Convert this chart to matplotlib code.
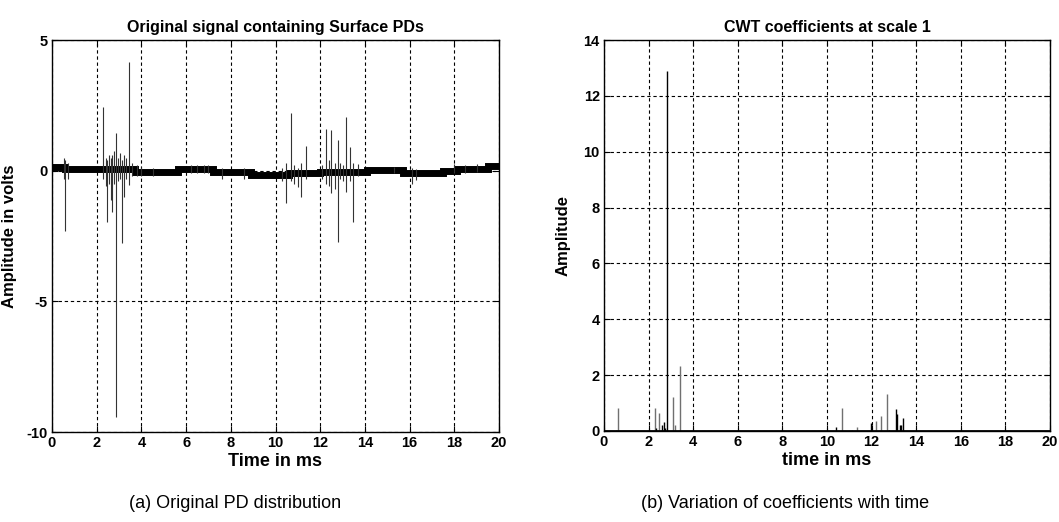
import matplotlib
matplotlib.use("Agg")
import matplotlib.pyplot as plt

plt.rcParams['font.family'] = ['Liberation Sans Narrow', 'Liberation Sans', 'DejaVu Sans']
plt.rcParams['axes.unicode_minus'] = False

# ---- Left panel data: original signal (baseline band + PD spikes) ----
base_time = [0, 0.6, 3.7, 5.65, 7.2, 8.9, 10.6, 12.0, 14.1, 15.7, 17.5, 18.1, 19.5, 20.0]
base_volt = [0.15, 0.06, -0.05, 0.06, -0.07, -0.17, -0.08, -0.05, 0.02, -0.1, 0.0, 0.07, 0.18, 0.18]

left_spike_time = [0.55, 0.6, 0.7, 2.29, 2.4, 2.47, 2.55, 2.63, 2.7, 2.77, 2.86, 2.95, 3.05, 3.12, 3.2, 3.3, 3.45, 3.6, 3.8,
                   4.0, 4.5, 6.2, 6.5, 6.8, 7.0, 7.6, 8.6, 10.3, 10.46, 10.7, 10.85, 11.0, 11.15, 11.38, 12.1, 12.27, 12.4, 12.5, 12.65, 12.78, 12.9, 13.0,
                   13.17, 13.33, 13.47, 13.7, 15.3, 16.1, 16.3, 18.0, 18.5, 19.0]
left_spike_max = [0.5, 0.4, 0.3, 2.43, 0.5, 0.4, 0.6, 0.5, 0.6, 0.75, 1.45, 0.5, 0.67, 0.4, 0.6, 0.5, 4.14, 0.3, 0.2,
                  0.15, 0.1, 0.2, 0.2, 0.2, 0.2, 0.1, 0.1, 0.1, 0.28, 2.2, 0.2, 0.1, 0.28, 0.94, 0.2, 1.6, 0.4, 1.55, 0.3, 1.17, 0.3, 0.2,
                  2.04, 0.91, 0.3, 0.25, 0.15, 0.1, 0.05, 0.25, 0.2, 0.25]
left_spike_min = [-0.3, -2.3, -0.3, -0.3, -0.6, -1.97, -0.5, -1.13, -1.6, -0.5, -9.43, -0.4, -0.3, -2.77, -1.0, -0.3, -0.56, -0.2, -0.2,
                  -0.2, -0.2, -0.1, -0.1, -0.1, -0.1, -0.3, -0.3, -0.4, -1.23, -0.4, -0.5, -0.63, -1.0, -0.3, -0.3, -0.5, -0.6, -0.87, -0.7, -2.73, -0.3, -0.4,
                  -0.81, -0.4, -1.96, -0.2, -0.1, -0.5, -0.35, -0.1, -0.1, -0.05]

# ---- Right panel data: CWT coefficients at scale 1 ----
cwt_time = [0.53, 0.61, 2.28, 2.35, 2.46, 2.6, 2.69, 2.75, 2.83, 3.11, 3.2, 3.42,
            10.42, 10.66, 11.1, 11.33, 11.96, 12.2, 12.44, 12.71, 12.8, 13.08, 13.13, 13.28, 13.33, 13.43]
cwt_amp = [0.05, 0.81, 0.82, 0.1, 0.63, 0.2, 0.33, 0.12, 12.88, 1.23, 0.2, 2.34,
           0.15, 0.82, 0.05, 0.13, 0.3, 0.37, 0.54, 1.31, 0.05, 0.78, 0.6, 0.2, 0.2, 0.45]
cwt_color = ['#707070', '#707070', '#707070', '#000000', '#707070', '#000000', '#000000', '#000000', '#000000', '#707070', '#707070', '#707070',
             '#000000', '#707070', '#707070', '#707070', '#000000', '#707070', '#707070', '#707070', '#000000', '#000000', '#000000', '#000000', '#000000', '#000000']

x_ticks = [0, 2, 4, 6, 8, 10, 12, 14, 16, 18, 20]
left_y_ticks = [-10, -5, 0, 5]
right_y_ticks = [0, 2, 4, 6, 8, 10, 12, 14]

fig = plt.figure(figsize=(10.59, 5.22), dpi=100)
W, H = 1059, 522
axL = fig.add_axes([52 / W, (H - 432) / H, 447 / W, 392 / H])
axR = fig.add_axes([604 / W, (H - 431) / H, 446 / W, 391 / H])

def style(ax):
    ax.set_xlim(0, 20)
    ax.set_xticks(x_ticks)
    ax.grid(True, color='black', linestyle=(0, (3, 2.5)), linewidth=0.8)
    ax.set_axisbelow(True)
    ax.tick_params(direction='in', top=True, right=True, length=4, width=0.8, pad=3)
    for lab in ax.get_xticklabels() + ax.get_yticklabels():
        lab.set_fontsize(10.5)
        lab.set_fontweight('bold')
    for s in ax.spines.values():
        s.set_linewidth(1.0)
        s.set_color('black')

# Left panel
axL.plot(base_time, base_volt, color='black', linewidth=5.0, drawstyle='steps-post',
         solid_joinstyle='miter', zorder=3)
axL.vlines(left_spike_time, left_spike_min, left_spike_max, color='#333333', linewidth=0.8, zorder=3)
axL.set_ylim(-10, 5)
axL.set_yticks(left_y_ticks)
style(axL)
axL.set_title('Original signal containing Surface PDs', fontsize=11.5, fontweight='bold', pad=6)
axL.set_xlabel('Time in ms', fontsize=13, fontweight='bold', labelpad=2)
axL.set_ylabel('Amplitude in volts', fontsize=12, fontweight='bold')
axL.yaxis.set_label_coords(-0.078, 0.5)

# Right panel
axR.vlines(cwt_time, 0, cwt_amp, colors=cwt_color, linewidth=1.0, zorder=3)
axR.plot([0, 20], [0, 0], color='black', linewidth=2.0, zorder=4)
axR.set_ylim(0, 14)
axR.set_yticks(right_y_ticks)
style(axR)
axR.set_title('CWT coefficients at scale 1', fontsize=11.5, fontweight='bold', pad=6)
axR.set_xlabel('time in ms', fontsize=13, fontweight='bold', labelpad=2)
axR.set_ylabel('Amplitude', fontsize=12, fontweight='bold')
axR.yaxis.set_label_coords(-0.075, 0.5)

# Captions
fig.text(235 / W, 1 - 503 / H, '(a) Original PD distribution', fontsize=13, ha='center', va='center')
fig.text(785 / W, 1 - 503 / H, '(b) Variation of coefficients with time', fontsize=13, ha='center', va='center')

fig.savefig('out.png', dpi=100)
